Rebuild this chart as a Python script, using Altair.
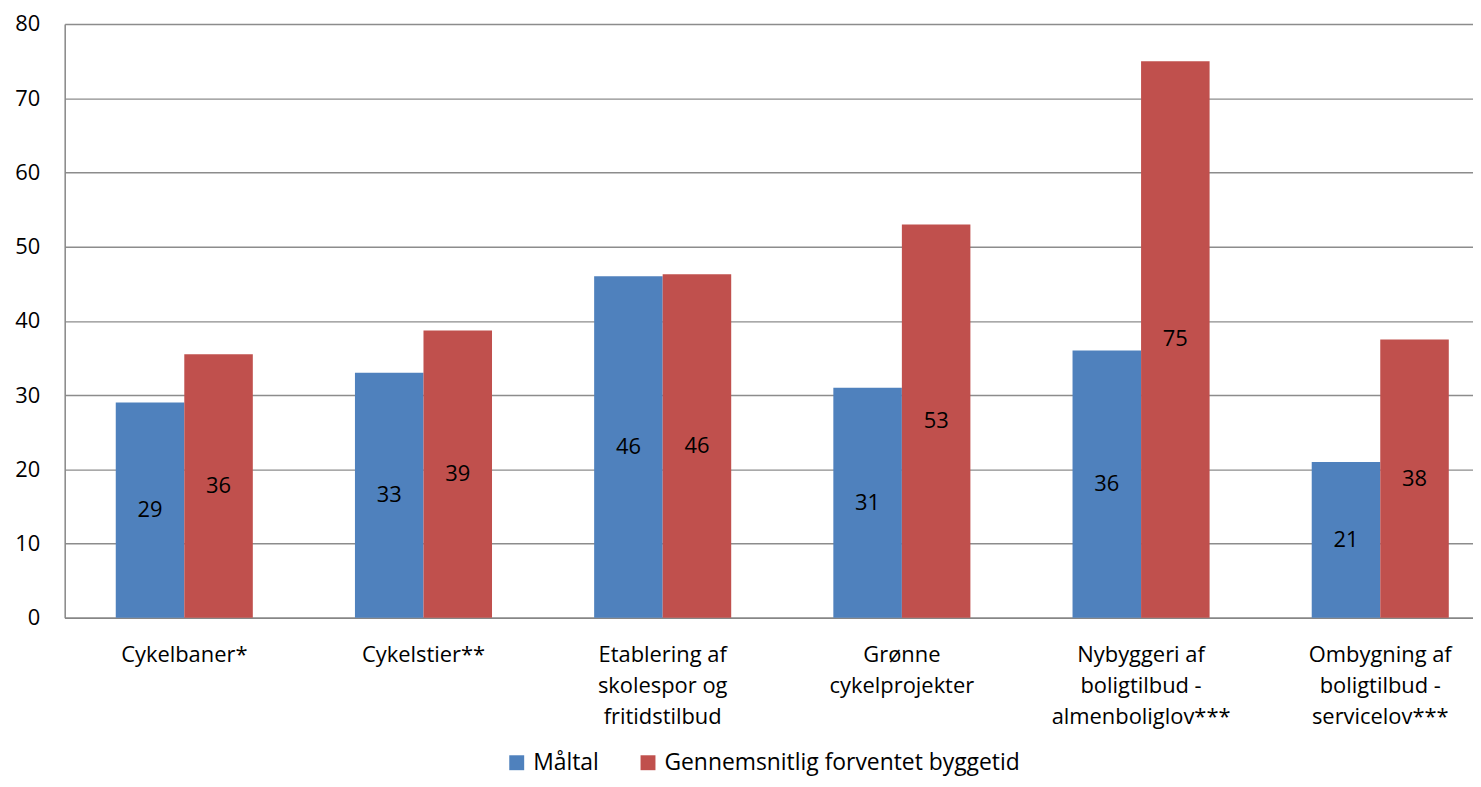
import altair as alt
import pandas as pd

# ---- data ----
categories = [
    "Cykelbaner*",
    "Cykelstier**",
    "Etablering af\nskolespor og\nfritidstilbud",
    "Grønne\ncykelprojekter",
    "Nybyggeri af\nboligtilbud -\nalmenboliglov***",
    "Ombygning af\nboligtilbud -\nservicelov***",
]
series = ["Måltal", "Gennemsnitlig forventet byggetid"]
maaltal = [29, 33, 46, 31, 36, 21]
byggetid = [35.5, 38.7, 46.3, 53.0, 75.0, 37.5]
y_ticks = [0, 10, 20, 30, 40, 50, 60, 70, 80]
colors = ["#4F81BD", "#C0504D"]

rows = []
for c, a, b in zip(categories, maaltal, byggetid):
    rows.append({"kategori": c, "serie": series[0], "vaerdi": a})
    rows.append({"kategori": c, "serie": series[1], "vaerdi": b})
df = pd.DataFrame(rows)

FONT = "Open Sans"
FS = 22

x_enc = alt.X(
    "kategori:N",
    sort=categories,
    scale=alt.Scale(paddingInner=0.427, paddingOuter=0.2135, range=[0, 1443]),
    axis=alt.Axis(
        title=None,
        labelAngle=0,
        ticks=False,
        domain=True,
        domainColor="#868686",
        domainWidth=1.5,
        labelFont=FONT,
        labelFontSize=FS,
        labelColor="#000000",
        labelPadding=27,
        labelLineHeight=31,
        labelLimit=0,
        labelExpr="split(datum.label, '\\n')",
    ),
)
xoff_enc = alt.XOffset("serie:N", sort=series, scale=alt.Scale(paddingInner=0, paddingOuter=0))

bars = alt.Chart(df).mark_bar().encode(
    x=x_enc,
    xOffset=xoff_enc,
    y=alt.Y(
        "vaerdi:Q",
        scale=alt.Scale(domain=[0, 80], nice=False),
        axis=alt.Axis(
            title=None,
            values=y_ticks,
            ticks=False,
            domain=True,
            domainColor="#868686",
            domainWidth=1.5,
            grid=True,
            gridColor="#8C8C8C",
            gridWidth=1.4,
            labelFont=FONT,
            labelFontSize=FS,
            labelColor="#000000",
            labelPadding=25,
        ),
    ),
    color=alt.Color(
        "serie:N",
        sort=series,
        scale=alt.Scale(domain=series, range=colors),
        legend=alt.Legend(
            title=None,
            orient="none",
            legendX=443,
            legendY=731,
            direction="horizontal",
            symbolType="square",
            symbolSize=225,
            symbolStrokeWidth=0,
            labelFont=FONT,
            labelFontSize=23,
            labelColor="#000000",
            labelOffset=5,
            labelLimit=0,
            columnPadding=37,
            padding=0,
        ),
    ),
)

labels = alt.Chart(df).transform_calculate(
    midt="datum.vaerdi / 2"
).mark_text(
    font=FONT, fontSize=FS, color="#000000", baseline="middle", align="center"
).encode(
    x=alt.X("kategori:N", sort=categories),
    xOffset=alt.XOffset("serie:N", sort=series),
    y=alt.Y("midt:Q"),
    text=alt.Text("vaerdi:Q", format=".0f"),
)

chart = (
    alt.layer(bars, labels)
    .properties(
        width=1416,
        height=597,
        autosize=alt.AutoSizeParams(type="none"),
        padding={"left": 57, "top": 14, "right": 0, "bottom": 160},
        background="#FFFFFF",
    )
    .configure_view(stroke=None)
)

chart.save("out.html", embed_options={"renderer": "svg", "actions": False})
